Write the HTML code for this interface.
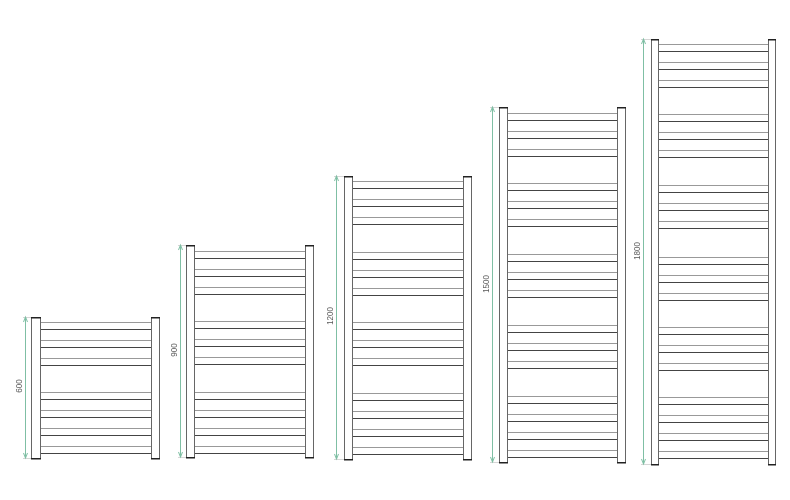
<!DOCTYPE html>
<html><head><meta charset="utf-8"><style>
html,body{margin:0;padding:0;background:#fff;width:790px;height:500px;overflow:hidden}
svg{display:block}
text{font-family:"Liberation Sans",sans-serif;font-size:8px;fill:#555}
</style></head><body>
<svg id="s" width="790" height="500" xmlns="http://www.w3.org/2000/svg"></svg>
<script>
var R=[
 {l:31,lw:9,r:151,rw:8,t:317,b:458,g:25,lab:"600",ly:386,groups:[322],bot:392},
 {l:186,lw:8,r:305,rw:8,t:245,b:457,g:180,lab:"900",ly:350,groups:[251,321],bot:392},
 {l:344,lw:8,r:463,rw:8,t:176,b:459,g:336,lab:"1200",ly:316,groups:[181,252,322],bot:393},
 {l:499,lw:8,r:617,rw:8,t:107,b:462,g:492,lab:"1500",ly:284,groups:[113,183,254,325],bot:396},
 {l:651,lw:7,r:768,rw:7,t:39,b:464,g:643,lab:"1800",ly:251,groups:[44,114,185,257,327],bot:397}
];
var o='';
var six=[0,7,18,25,36,43],eight=[0,7,18,25,36,43,54,61];
R.forEach(function(d){
 function line(y,i){var c=(i%2==0)?'#999':'#444';o+='<line x1="'+(d.l+d.lw)+'" x2="'+d.r+'" y1="'+(y+.5)+'" y2="'+(y+.5)+'" stroke="'+c+'" stroke-width="1"/>';}
 d.groups.forEach(function(g){six.forEach(function(k,i){line(g+k,i);});});
 eight.forEach(function(k,i){line(d.bot+k,i);});
 [[d.l,d.lw],[d.r,d.rw]].forEach(function(p){
  o+='<rect x="'+(p[0]+.5)+'" y="'+(d.t+.5)+'" width="'+p[1]+'" height="'+(d.b-d.t)+'" fill="#fff" stroke="#666" stroke-width="1"/>';
  o+='<rect x="'+p[0]+'" y="'+(d.t)+'" width="'+(p[1]+1)+'" height="1.5" fill="#222"/>';
  o+='<rect x="'+p[0]+'" y="'+(d.b)+'" width="'+(p[1]+1)+'" height="1.5" fill="#222"/>';
 });
 o+='<line x1="'+(d.g+.5)+'" x2="'+(d.g+.5)+'" y1="'+d.t+'" y2="'+d.b+'" stroke="#7fbfa4" stroke-width="1"/>';
 o+='<line x1="'+(d.g-2)+'" x2="'+d.l+'" y1="'+(d.t+.5)+'" y2="'+(d.t+.5)+'" stroke="#bbb" stroke-width=".6"/>';
 o+='<line x1="'+(d.g-2)+'" x2="'+d.l+'" y1="'+(d.b+.5)+'" y2="'+(d.b+.5)+'" stroke="#bbb" stroke-width=".6"/>';
 o+='<path d="M'+(d.g-1.5)+' '+(d.t+5)+' L'+(d.g+.5)+' '+d.t+' L'+(d.g+2.5)+' '+(d.t+5)+'" fill="none" stroke="#7fbfa4" stroke-width="1"/>';
 o+='<path d="M'+(d.g-1.5)+' '+(d.b-5)+' L'+(d.g+.5)+' '+d.b+' L'+(d.g+2.5)+' '+(d.b-5)+'" fill="none" stroke="#7fbfa4" stroke-width="1"/>';
 var tx=d.g-3;
 o+='<text x="'+tx+'" y="'+d.ly+'" text-anchor="middle" transform="rotate(-90 '+tx+' '+d.ly+')">'+d.lab+'</text>';
});
document.getElementById('s').innerHTML=o;
</script>
</body></html>
